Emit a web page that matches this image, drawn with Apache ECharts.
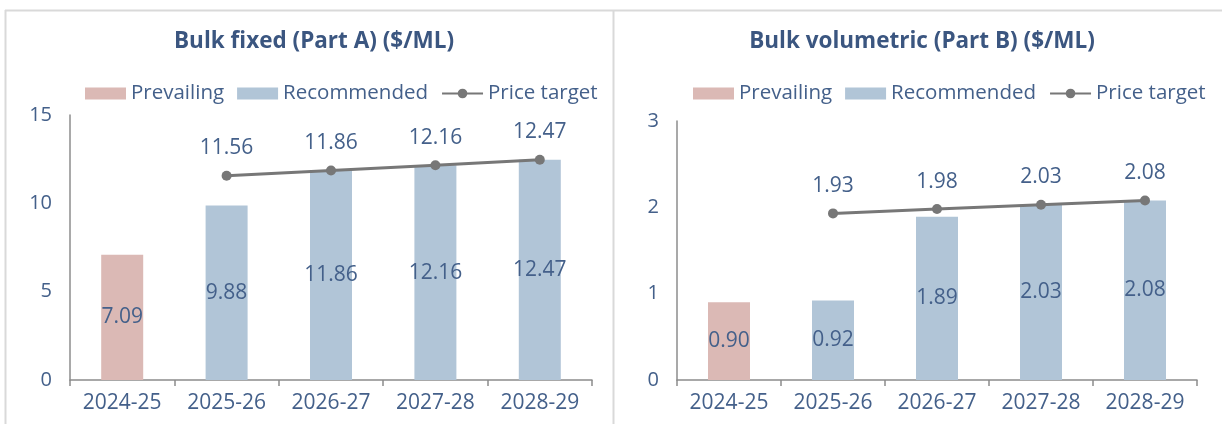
<!DOCTYPE html>
<html>
<head>
<meta charset="utf-8">
<script src="https://cdn.jsdelivr.net/npm/echarts@6/dist/echarts.min.js"></script>
<style>
html,body{margin:0;padding:0;background:#fff;}
#c{width:1222px;height:424px;}
</style>
</head>
<body>
<div id="c"></div>
<script>
const categories = ['2024-25','2025-26','2026-27','2027-28','2028-29'];
const titleA = 'Bulk fixed (Part A) ($/ML)';
const titleB = 'Bulk volumetric (Part B) ($/ML)';
const prevailingA = [7.09, null, null, null, null];
const recommendedA = [null, 9.88, 11.86, 12.16, 12.47];
const targetA = [null, 11.56, 11.86, 12.16, 12.47];
const prevailingB = [0.90, null, null, null, null];
const recommendedB = [null, 0.92, 1.89, 2.03, 2.08];
const targetB = [null, 1.93, 1.98, 2.03, 2.08];

const FONT = 'Open Sans';
const TXT = '#44608a';
const C_PREV = '#dbb9b5';
const C_REC = '#b1c5d7';
const C_LINE = '#777777';

const chart = echarts.init(document.getElementById('c'));

function barLabel() {
  return {show:true, position:'inside', color:TXT, fontFamily:FONT, fontSize:21,
    formatter: p => p.value == null ? '' : Number(p.value).toFixed(2)};
}
function lineLabel() {
  return {show:true, position:'top', distance:12, color:TXT, fontFamily:FONT, fontSize:21,
    formatter: p => p.value == null ? '' : Number(p.value).toFixed(2)};
}
function xAxis(gi) {
  return {type:'category', gridIndex:gi, data:categories,
    axisLine:{show:true, lineStyle:{color:'#8c8c8c', width:1.5}},
    axisTick:{show:true, length:6, lineStyle:{color:'#8c8c8c', width:1.5}},
    axisLabel:{color:TXT, fontFamily:FONT, fontSize:21, margin:13, interval:0}};
}
function yAxis(gi, max, interval) {
  return {type:'value', gridIndex:gi, min:0, max:max, interval:interval,
    axisLine:{show:true, lineStyle:{color:'#8c8c8c', width:1.5}},
    axisTick:{show:false}, splitLine:{show:false},
    axisLabel:{color:TXT, fontFamily:FONT, fontSize:20, margin:18}};
}
function legend(left) {
  return {left:left, top:78, width:600, itemWidth:41, itemHeight:12, itemGap:13,
    textStyle:{color:TXT, fontFamily:FONT, fontSize:20.5},
    data:[{name:'Prevailing', icon:'rect'},{name:'Recommended', icon:'rect'},{name:'Price target'}]};
}

chart.setOption({
  animation:false,
  title:[
    {text:titleA, left:309, top:25, textAlign:'center', textStyle:{color:'#3b5680', fontFamily:FONT, fontWeight:'bold', fontSize:22.5}},
    {text:titleB, left:917, top:25, textAlign:'center', textStyle:{color:'#3b5680', fontFamily:FONT, fontWeight:'bold', fontSize:22.5}}
  ],
  legend:[legend(80), legend(688)],
  grid:[
    {left:70, top:115, width:522, height:265},
    {left:677, top:121, width:520, height:259}
  ],
  xAxis:[xAxis(0), xAxis(1)],
  yAxis:[yAxis(0, 15, 5), yAxis(1, 3, 1)],
  graphic:[
    {type:'line', shape:{x1:5, y1:10.5, x2:1222, y2:10.5}, style:{stroke:'#d9d9d9', lineWidth:2}, silent:true},
    {type:'line', shape:{x1:5.5, y1:10, x2:5.5, y2:424}, style:{stroke:'#d9d9d9', lineWidth:2}, silent:true},
    {type:'line', shape:{x1:613.5, y1:10, x2:613.5, y2:424}, style:{stroke:'#d9d9d9', lineWidth:2}, silent:true}
  ],
  series:[
    {name:'Prevailing', type:'bar', stack:'a', xAxisIndex:0, yAxisIndex:0, data:prevailingA, barWidth:42, itemStyle:{color:C_PREV}, label:barLabel()},
    {name:'Recommended', type:'bar', stack:'a', xAxisIndex:0, yAxisIndex:0, data:recommendedA, barWidth:42, itemStyle:{color:C_REC}, label:barLabel()},
    {name:'Price target', type:'line', xAxisIndex:0, yAxisIndex:0, data:targetA, symbol:'circle', symbolSize:10,
      lineStyle:{color:C_LINE, width:3}, itemStyle:{color:C_LINE}, label:lineLabel(), z:5},
    {name:'Prevailing', type:'bar', stack:'b', xAxisIndex:1, yAxisIndex:1, data:prevailingB, barWidth:42, itemStyle:{color:C_PREV}, label:barLabel()},
    {name:'Recommended', type:'bar', stack:'b', xAxisIndex:1, yAxisIndex:1, data:recommendedB, barWidth:42, itemStyle:{color:C_REC}, label:barLabel()},
    {name:'Price target', type:'line', xAxisIndex:1, yAxisIndex:1, data:targetB, symbol:'circle', symbolSize:10,
      lineStyle:{color:C_LINE, width:3}, itemStyle:{color:C_LINE}, label:lineLabel(), z:5}
  ]
});
</script>
</body>
</html>
